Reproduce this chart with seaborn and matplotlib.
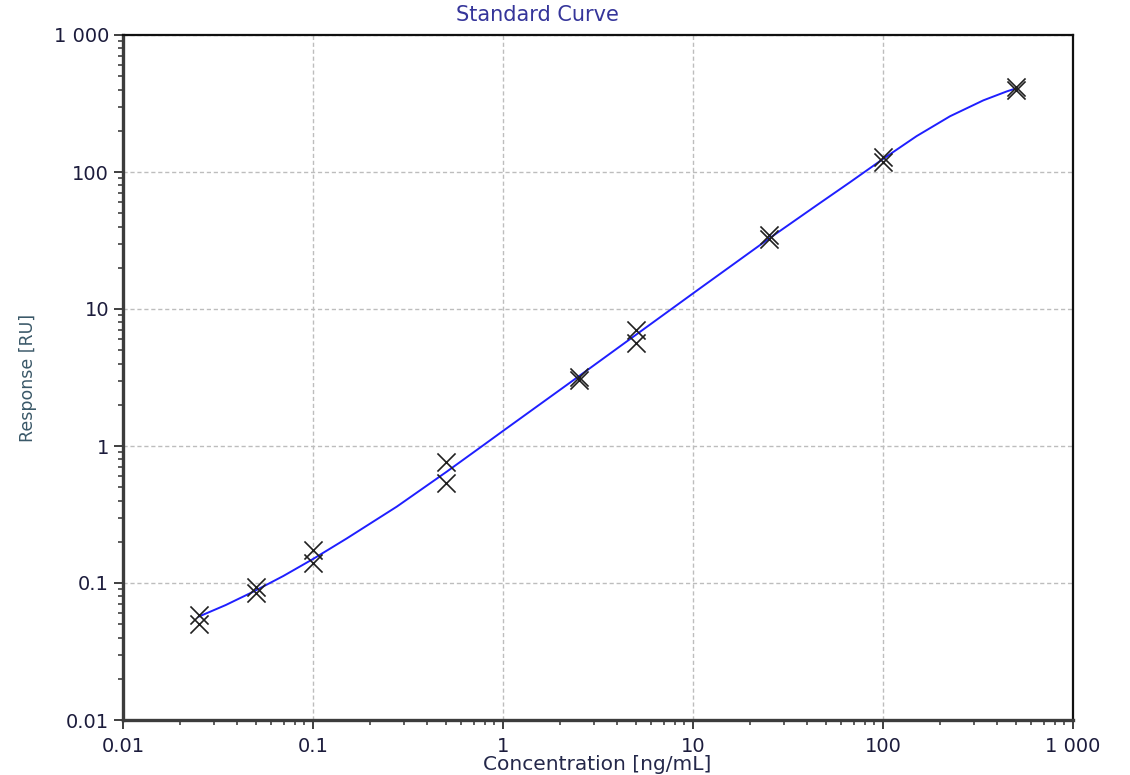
import matplotlib
matplotlib.use("Agg")
import matplotlib.pyplot as plt
import seaborn as sns
import pandas as pd
from matplotlib.ticker import FixedLocator, FixedFormatter, LogLocator, NullFormatter

# ---- data ----
std_conc = [0.025, 0.025, 0.05, 0.05, 0.1, 0.1, 0.5, 0.5, 2.5, 2.5,
            5, 5, 25, 25, 100, 100, 500, 500]
std_resp = [0.058, 0.050, 0.094, 0.085, 0.174, 0.139, 0.768, 0.54, 3.2, 3.03,
            7.03, 5.62, 34.5, 32.5, 129, 119, 420, 397]

# fitted standard curve
curve_conc = [0.025, 0.0347, 0.0485, 0.0698, 0.1, 0.1504, 0.2758, 0.5055,
              0.7568, 1.0, 2.489, 4.853, 10.89, 17.30, 24.89, 44.77, 66.99,
              100, 150.3, 225.4, 337.3, 447.7, 500]
curve_resp = [0.0568, 0.0690, 0.0864, 0.1125, 0.1496, 0.2113, 0.3606, 0.6494,
              0.9727, 1.288, 3.206, 6.281, 14.16, 22.49, 32.36, 57.15, 84.14,
              124.5, 182.8, 255.3, 333.4, 387.3, 407.4]

major_ticks = [0.01, 0.1, 1, 10, 100, 1000]
tick_labels = ["0.01", "0.1", "1", "10", "100", "1 000"]

title_text = "Standard Curve"
x_label = "Concentration [ng/mL]"
y_label = "Response [RU]"

pts = pd.DataFrame({"conc": std_conc, "resp": std_resp})
crv = pd.DataFrame({"conc": curve_conc, "resp": curve_resp})

sns.set_theme(style="white")
plt.rcParams["font.family"] = ["DejaVu Sans"]

W, H = 1130, 775
fig = plt.figure(figsize=(W / 100, H / 100), dpi=100)
ax = fig.add_axes([123 / W, 1 - 720 / H, (1073 - 123) / W, (720 - 35) / H])

ax.set_xscale("log")
ax.set_yscale("log")

sns.lineplot(data=crv, x="conc", y="resp", ax=ax, color="#1f1fff",
             linewidth=1.4, sort=False, zorder=3)
sns.scatterplot(data=pts, x="conc", y="resp", ax=ax, marker="x", s=170,
                color="#202020", linewidth=1.2, zorder=4)

ax.set_xlim(0.01, 1000)
ax.set_ylim(0.01, 1000)

for axis in (ax.xaxis, ax.yaxis):
    axis.set_major_locator(FixedLocator(major_ticks))
    axis.set_major_formatter(FixedFormatter(tick_labels))
    axis.set_minor_locator(LogLocator(base=10, subs=range(2, 10), numticks=20))
    axis.set_minor_formatter(NullFormatter())

ax.grid(True, which="major", color="#bdbdbd", linestyle=(0, (3, 2)), linewidth=1.0)
ax.set_axisbelow(True)

ax.tick_params(axis="both", which="major", direction="out", length=6.5, width=1.3,
               color="#303030", labelsize=14, labelcolor="#1c1c3c")
ax.tick_params(axis="both", which="minor", direction="out", length=3.5, width=1.1,
               color="#303030")
ax.tick_params(axis="y", which="major", pad=3.5)
ax.tick_params(axis="x", which="major", pad=6.0)
ax.tick_params(top=False, right=False, which="both")
ax.xaxis.set_ticks_position("bottom")
ax.yaxis.set_ticks_position("left")

for side in ("left", "bottom"):
    ax.spines[side].set_color("#3c3c3c")
    ax.spines[side].set_linewidth(2.4)
for side in ("top", "right"):
    ax.spines[side].set_color("#101010")
    ax.spines[side].set_linewidth(1.6)
    ax.spines[side].set_visible(True)

ax.set_xlabel("")
ax.set_ylabel("")

fig.text(537 / W, 1 - 15 / H, title_text, ha="center", va="center",
         fontsize=15, color="#35359a")
fig.text(597 / W, 1 - 764 / H, x_label, ha="center", va="center",
         fontsize=14.5, color="#24284a")
fig.text(28 / W, 1 - 378 / H, y_label, ha="center", va="center",
         rotation=90, fontsize=12.5, color="#3a5868")

fig.savefig("out.png", dpi=100, facecolor="white")
